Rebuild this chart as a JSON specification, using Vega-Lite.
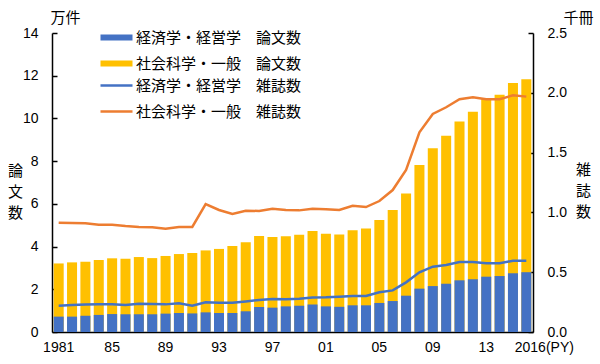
{
  "$schema": "https://vega.github.io/schema/vega-lite/v6.json",
  "autosize": "none",
  "width": 481,
  "height": 299,
  "padding": {"left": 52, "top": 33, "right": 67, "bottom": 32},
  "background": "white",
  "config": {
    "view": {"stroke": null},
    "font": "Liberation Sans",
    "axis": {"labelColor": "black", "titleColor": "black", "labelFont": "Liberation Sans", "titleFont": "Noto Sans CJK JP", "titleFontWeight": "normal", "titleFontSize": 15, "grid": false, "zindex": 1},
    "legend": {"labelFont": "Noto Sans CJK JP", "labelFontSize": 15, "labelColor": "black", "labelLimit": 400, "padding": 0, "title": null}
  },
  "data": {"values": [
    {"year": 1981, "econ_papers": 0.72, "total_papers": 3.21, "econ_journals": 0.220, "social_journals": 0.914},
    {"year": 1982, "econ_papers": 0.72, "total_papers": 3.26, "econ_journals": 0.226, "social_journals": 0.911},
    {"year": 1983, "econ_papers": 0.76, "total_papers": 3.29, "econ_journals": 0.229, "social_journals": 0.909},
    {"year": 1984, "econ_papers": 0.80, "total_papers": 3.37, "econ_journals": 0.231, "social_journals": 0.897},
    {"year": 1985, "econ_papers": 0.84, "total_papers": 3.45, "econ_journals": 0.231, "social_journals": 0.897},
    {"year": 1986, "econ_papers": 0.83, "total_papers": 3.43, "econ_journals": 0.226, "social_journals": 0.886},
    {"year": 1987, "econ_papers": 0.83, "total_papers": 3.51, "econ_journals": 0.237, "social_journals": 0.878},
    {"year": 1988, "econ_papers": 0.83, "total_papers": 3.46, "econ_journals": 0.234, "social_journals": 0.875},
    {"year": 1989, "econ_papers": 0.86, "total_papers": 3.56, "econ_journals": 0.231, "social_journals": 0.864},
    {"year": 1990, "econ_papers": 0.89, "total_papers": 3.65, "econ_journals": 0.240, "social_journals": 0.878},
    {"year": 1991, "econ_papers": 0.87, "total_papers": 3.70, "econ_journals": 0.220, "social_journals": 0.878},
    {"year": 1992, "econ_papers": 0.92, "total_papers": 3.82, "econ_journals": 0.248, "social_journals": 1.070},
    {"year": 1993, "econ_papers": 0.89, "total_papers": 3.89, "econ_journals": 0.245, "social_journals": 1.020},
    {"year": 1994, "econ_papers": 0.89, "total_papers": 4.03, "econ_journals": 0.245, "social_journals": 0.987},
    {"year": 1995, "econ_papers": 0.97, "total_papers": 4.20, "econ_journals": 0.256, "social_journals": 1.014},
    {"year": 1996, "econ_papers": 1.17, "total_papers": 4.49, "econ_journals": 0.268, "social_journals": 1.012},
    {"year": 1997, "econ_papers": 1.14, "total_papers": 4.45, "econ_journals": 0.276, "social_journals": 1.031},
    {"year": 1998, "econ_papers": 1.20, "total_papers": 4.48, "econ_journals": 0.273, "social_journals": 1.020},
    {"year": 1999, "econ_papers": 1.23, "total_papers": 4.55, "econ_journals": 0.279, "social_journals": 1.017},
    {"year": 2000, "econ_papers": 1.29, "total_papers": 4.73, "econ_journals": 0.288, "social_journals": 1.030},
    {"year": 2001, "econ_papers": 1.20, "total_papers": 4.60, "econ_journals": 0.290, "social_journals": 1.026},
    {"year": 2002, "econ_papers": 1.18, "total_papers": 4.57, "econ_journals": 0.295, "social_journals": 1.020},
    {"year": 2003, "econ_papers": 1.25, "total_papers": 4.76, "econ_journals": 0.301, "social_journals": 1.056},
    {"year": 2004, "econ_papers": 1.25, "total_papers": 4.85, "econ_journals": 0.301, "social_journals": 1.045},
    {"year": 2005, "econ_papers": 1.36, "total_papers": 5.24, "econ_journals": 0.332, "social_journals": 1.095},
    {"year": 2006, "econ_papers": 1.45, "total_papers": 5.71, "econ_journals": 0.348, "social_journals": 1.187},
    {"year": 2007, "econ_papers": 1.70, "total_papers": 6.49, "econ_journals": 0.415, "social_journals": 1.355},
    {"year": 2008, "econ_papers": 2.03, "total_papers": 7.82, "econ_journals": 0.499, "social_journals": 1.670},
    {"year": 2009, "econ_papers": 2.15, "total_papers": 8.60, "econ_journals": 0.546, "social_journals": 1.823},
    {"year": 2010, "econ_papers": 2.26, "total_papers": 9.19, "econ_journals": 0.560, "social_journals": 1.879},
    {"year": 2011, "econ_papers": 2.42, "total_papers": 9.86, "econ_journals": 0.585, "social_journals": 1.946},
    {"year": 2012, "econ_papers": 2.47, "total_papers": 10.31, "econ_journals": 0.585, "social_journals": 1.962},
    {"year": 2013, "econ_papers": 2.59, "total_papers": 10.92, "econ_journals": 0.574, "social_journals": 1.946},
    {"year": 2014, "econ_papers": 2.62, "total_papers": 11.11, "econ_journals": 0.574, "social_journals": 1.946},
    {"year": 2015, "econ_papers": 2.75, "total_papers": 11.66, "econ_journals": 0.596, "social_journals": 1.979},
    {"year": 2016, "econ_papers": 2.80, "total_papers": 11.84, "econ_journals": 0.596, "social_journals": 1.968}
  ]},
  "encoding": {
    "x": {
      "field": "year", "type": "ordinal",
      "scale": {"paddingInner": 0.25, "paddingOuter": 0.125},
      "axis": {
        "title": null,
        "values": [1981, 1985, 1989, 1993, 1997, 2001, 2005, 2009, 2013, 2016],
        "labelExpr": "datum.value == 1981 ? '1981' : datum.value == 2016 ? '2016(PY)' : slice(toString(datum.value), 2)",
        "labelAngle": 0,
        "labelFontSize": 14,
        "labelPadding": 8,
        "labelOverlap": false,
        "labelOffset": {"condition": {"test": "datum.value == 2016", "value": 18}, "value": 0},
        "ticks": false,
        "domainColor": "black",
        "domainWidth": 1.5
      }
    }
  },
  "layer": [
    {
      "layer": [
        {
          "mark": {"type": "bar"},
          "encoding": {
            "y": {
              "field": "total_papers", "type": "quantitative",
              "scale": {"domain": [0, 14], "nice": false},
              "axis": {
                "orient": "left",
                "values": [0, 2, 4, 6, 8, 10, 12, 14],
                "labelFontSize": 14,
                "labelPadding": 19,
                "tickSize": -5,
                "tickColor": "black",
                "tickWidth": 1.5,
                "domainColor": "black",
                "domainWidth": 1.5,
                "title": ["論", "文", "数"],
                "titleAngle": 0,
                "titleAlign": "center",
                "titleBaseline": "top",
                "titleLineHeight": 21,
                "titleX": -37,
                "titleY": 130
              }
            },
            "fill": {
              "datum": "社会科学・一般　論文数", "type": "nominal",
              "scale": {"domain": ["経済学・経営学　論文数", "社会科学・一般　論文数"], "range": ["#4472C4", "#FFC000"]},
              "legend": {
                "orient": "none", "legendX": 57, "legendY": -3,
                "symbolType": "M-4,-0.75H4V0.75H-4Z", "symbolSize": 64, "symbolStrokeWidth": 0,
                "labelOffset": 12, "rowPadding": 10
              }
            }
          }
        },
        {
          "mark": {"type": "bar"},
          "encoding": {
            "y": {
              "field": "econ_papers", "type": "quantitative",
              "scale": {"domain": [0, 14], "nice": false},
              "axis": {
                "orient": "left", "labels": false, "ticks": false, "domain": false,
                "title": "万件", "titleAngle": 0, "titleAlign": "left", "titleBaseline": "middle",
                "titleX": -2, "titleY": -16
              }
            },
            "fill": {"datum": "経済学・経営学　論文数", "type": "nominal"}
          }
        }
      ],
      "resolve": {"axis": {"y": "independent"}}
    },
    {
      "layer": [
        {
          "mark": {"type": "line", "strokeWidth": 2.5},
          "encoding": {
            "y": {
              "field": "social_journals", "type": "quantitative",
              "scale": {"domain": [0, 2.5], "nice": false},
              "axis": {
                "orient": "right",
                "values": [0, 0.5, 1, 1.5, 2, 2.5],
                "format": ".1f",
                "labelFontSize": 14,
                "labelPadding": 19,
                "tickSize": -5,
                "tickColor": "black",
                "tickWidth": 1.5,
                "domainColor": "black",
                "domainWidth": 1.5,
                "title": ["雑", "誌", "数"],
                "titleAngle": 0,
                "titleAlign": "center",
                "titleBaseline": "top",
                "titleLineHeight": 21,
                "titleX": 50,
                "titleY": 129
              }
            },
            "stroke": {
              "datum": "社会科学・一般　雑誌数", "type": "nominal",
              "scale": {"domain": ["経済学・経営学　雑誌数", "社会科学・一般　雑誌数"], "range": ["#4472C4", "#ED7D31"]},
              "legend": {
                "orient": "none", "legendX": 57, "legendY": 45,
                "symbolType": "M-4,0H4", "symbolSize": 64, "symbolStrokeWidth": 2.5,
                "labelOffset": 12, "rowPadding": 10
              }
            }
          }
        },
        {
          "mark": {"type": "line", "strokeWidth": 2.5},
          "encoding": {
            "y": {
              "field": "econ_journals", "type": "quantitative",
              "scale": {"domain": [0, 2.5], "nice": false},
              "axis": {
                "orient": "right", "labels": false, "ticks": false, "domain": false,
                "title": "千冊", "titleAngle": 0, "titleAlign": "left", "titleBaseline": "middle",
                "titleX": 30, "titleY": -16
              }
            },
            "stroke": {"datum": "経済学・経営学　雑誌数", "type": "nominal"}
          }
        }
      ],
      "resolve": {"axis": {"y": "independent"}}
    }
  ],
  "resolve": {"scale": {"y": "independent"}}
}
